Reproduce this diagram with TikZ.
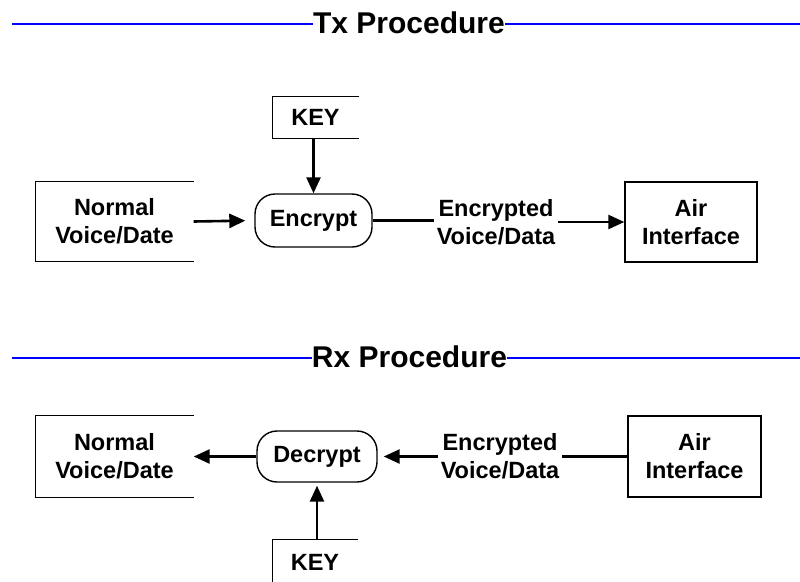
\documentclass[tikz,border=0pt]{standalone}
\usepackage{fontspec}
\setmainfont{Liberation Sans}
\usetikzlibrary{arrows.meta}
\begin{document}
\begin{tikzpicture}[x=1pt,y=1pt,
  title/.style={font=\fontsize{30}{36}\selectfont\bfseries, inner sep=0pt, anchor=base},
  lbl/.style={font=\fontsize{23.5}{28}\selectfont\bfseries, align=center, inner sep=0pt},
  box/.style={lbl, line width=1.4pt},
  fullbox/.style={box, draw},
  rbox/.style={box, draw, rounded corners=20pt},
  edge/.style={line width=1.4pt},
  conn/.style={line width=2.6pt},
  arr/.style={conn, -{Triangle[length=16pt,width=14pt]}},
  blueline/.style={blue, line width=2pt}]
\useasboundingbox (0,0) rectangle (800,-581);
% ---- Tx ----
\node[title] (tx) at (409,-33) {Tx Procedure};
\coordinate (txl) at (12,-24);
\coordinate (txr) at (800,-24);
\draw[blueline] (txl) -- (txl -| tx.west);
\draw[blueline] (tx.east |- txr) -- (txr);

\node[box, minimum width=85pt, minimum height=41pt] (key1) at (315.5,-117.5) {KEY};
\draw[edge] (key1.north east) -- (key1.north west) -- (key1.south west) -- (key1.south east);
\node[box, minimum width=157pt, minimum height=79pt] (norm1) at (114.5,-221.5) {Normal\\Voice/Date};
\draw[edge] (norm1.north east) -- (norm1.north west) -- (norm1.south west) -- (norm1.south east);
\node[rbox, minimum width=117pt, minimum height=53pt] (enc) at (313.5,-220.5) {Encrypt};
\node[lbl, inner xsep=3pt] (lab1) at (496,-222) {Encrypted\\Voice/Data};
\node[fullbox, minimum width=132pt, minimum height=80pt] (air1) at (691,-222) {Air\\Interface};

\draw[arr] (key1.south -| enc.north) -- (enc.north);
\draw[arr, shorten >=9pt] (norm1.east) -- (enc.west);
\draw[conn] (enc.east) -- (lab1.west |- enc.east);
\draw[arr] (lab1.east |- air1.west) -- (air1.west);

% ---- Rx ----
\node[title] (rx) at (409.5,-367) {Rx Procedure};
\coordinate (rxl) at (12,-358);
\coordinate (rxr) at (800,-358);
\draw[blueline] (rxl) -- (rxl -| rx.west);
\draw[blueline] (rx.east |- rxr) -- (rxr);

\node[box, minimum width=157pt, minimum height=81pt] (norm2) at (114.5,-456.5) {Normal\\Voice/Date};
\draw[edge] (norm2.north east) -- (norm2.north west) -- (norm2.south west) -- (norm2.south east);
\node[rbox, minimum width=120pt, minimum height=51pt] (dec) at (317,-456.5) {Decrypt};
\node[lbl, inner xsep=3pt] (lab2) at (500,-456) {Encrypted\\Voice/Data};
\node[fullbox, minimum width=133pt, minimum height=81pt] (air2) at (694.5,-456.5) {Air\\Interface};
\node[box, minimum width=84pt, minimum height=44pt] (key2) at (315,-562) {KEY};
\draw[edge] (key2.north east) -- (key2.north west) -- (key2.south west);

\draw[arr] (dec.west) -- (norm2.east);
\draw[arr, shorten >=6pt] (lab2.west |- dec.east) -- (dec.east);
\draw[conn] (air2.west) -- (lab2.east |- air2.west);
\draw[arr, shorten >=3pt] (key2.north -| dec.south) -- (dec.south);
\end{tikzpicture}
\end{document}
